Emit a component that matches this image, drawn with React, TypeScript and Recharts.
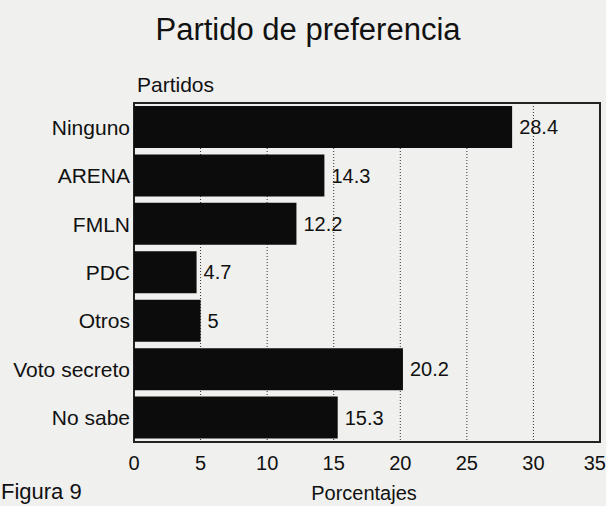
import React from 'react'
import { BarChart, Bar, XAxis, YAxis, CartesianGrid, LabelList, ReferenceArea, Label } from 'recharts'

// categorías y porcentajes
const partidos = ['Ninguno', 'ARENA', 'FMLN', 'PDC', 'Otros', 'Voto secreto', 'No sabe']
const porcentajes = [28.4, 14.3, 12.2, 4.7, 5, 20.2, 15.3]
const xTicks = [0, 5, 10, 15, 20, 25, 30, 35]

const data = partidos.map((name, i) => ({ name, valor: porcentajes[i] }))

const FONT = '"Liberation Sans", Arial, Helvetica, sans-serif'

const App: React.FC = () => {
  return (
    <div
      style={{
        position: 'absolute',
        left: 0,
        top: 0,
        width: 606,
        height: 506,
        background: '#f0f0ee',
        fontFamily: FONT,
        color: '#111',
        overflow: 'hidden',
      }}
    >
      <div style={{ position: 'absolute', left: 0, top: 12, width: 616, textAlign: 'center', fontSize: 31 }}>
        Partido de preferencia
      </div>
      <div style={{ position: 'absolute', left: 137, top: 73, fontSize: 21 }}>Partidos</div>
      <div style={{ position: 'absolute', left: 1, top: 479, fontSize: 22, lineHeight: '26px' }}>Figura 9</div>
      <BarChart
        width={606}
        height={506}
        data={data}
        layout="vertical"
        margin={{ top: 103, right: 6, bottom: 0, left: 0 }}
        barSize={42}
      >
        <CartesianGrid horizontal={false} strokeDasharray="1 2" stroke="#333" />
        <XAxis
          type="number"
          domain={[0, 35]}
          ticks={xTicks}
          height={64}
          tickSize={0}
          tickMargin={14}
          axisLine={false}
          tick={{ fontSize: 20, fill: '#111', fontFamily: FONT }}
        >
          <Label value="Porcentajes" position="insideBottom" offset={6} dx={-3} style={{ fontSize: 20, fill: '#111', fontFamily: FONT }} />
        </XAxis>
        <YAxis
          type="category"
          dataKey="name"
          width={134}
          tickSize={0}
          tickMargin={4}
          axisLine={false}
          interval={0}
          tick={{ fontSize: 21, fill: '#111', fontFamily: FONT }}
        />
        <Bar dataKey="valor" fill="#0c0c0c" isAnimationActive={false}>
          <LabelList dataKey="valor" position="right" offset={7} style={{ fontSize: 20, fill: '#111', fontFamily: FONT }} />
        </Bar>
        <ReferenceArea x1={0} x2={35} fill="none" stroke="#222" strokeWidth={2} ifOverflow="visible" />
      </BarChart>
    </div>
  )
}

export default App
